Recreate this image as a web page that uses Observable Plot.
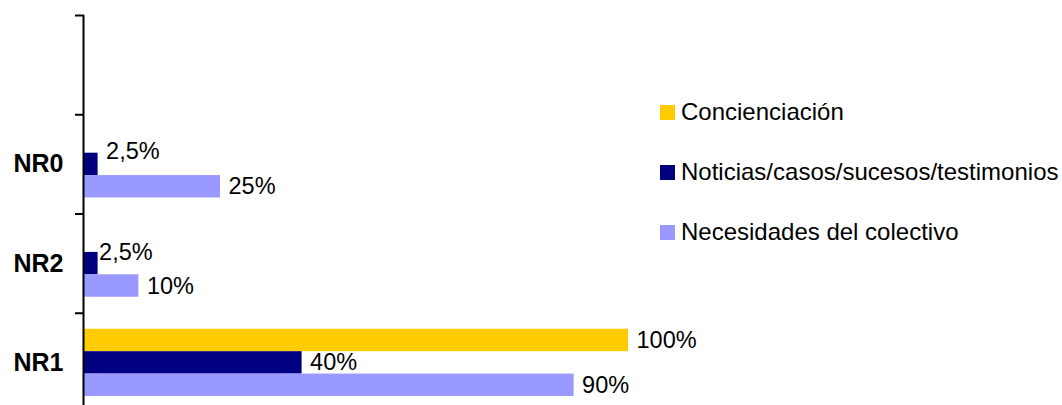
<!DOCTYPE html>
<html>
<head>
<meta charset="utf-8">
<script src="https://cdn.jsdelivr.net/npm/d3@7"></script>
<script src="https://cdn.jsdelivr.net/npm/@observablehq/plot@0.6"></script>
<style>
  html, body { margin: 0; padding: 0; background: #fff; }
  #chart { position: relative; width: 1062px; height: 405px; overflow: hidden; font-family: "Liberation Sans", Arial, sans-serif; }
  #legend { position: absolute; left: 660px; top: 82px; }
  .item { display: flex; align-items: center; height: 60px; font-size: 24px; color: #000; white-space: nowrap; }
  .sw { width: 15px; height: 15px; margin-right: 6px; flex: none; }
</style>
</head>
<body>
<div id="chart"><div id="legend"></div></div>
<script>
// Categories, listed top to bottom (top slot is an empty category)
const categories = ["", "NR0", "NR2", "NR1"];
const series = ["Concienciación", "Noticias/casos/sucesos/testimonios", "Necesidades del colectivo"];
const colors = ["#FFCC00", "#000080", "#9999FF"];
// Values in %, per category (same order as categories)
const concienciacion = [null, null, null, 100];
const noticias = [null, 2.5, 2.5, 40];
const necesidades = [null, 25, 10, 90];

const seriesValues = [concienciacion, noticias, necesidades];
const nCat = categories.length;
// layout of bars inside a category band (fractions of one band)
const barW = 0.2257;
const pad = (1 - barW * series.length) / 2;

const rows = [];
categories.forEach((c, i) => {
  const ci = nCat - 1 - i; // index from bottom
  seriesValues.forEach((vals, si) => {
    const v = vals[i];
    if (v == null) return;
    rows.push({category: c, ci, series: series[si], si, value: v});
  });
});
const barTop = d => d.ci + 1 - pad - d.si * barW;
const barBot = d => d.ci + 1 - pad - (d.si + 1) * barW;
const barMid = d => (barTop(d) + barBot(d)) / 2;
const fmt = d => String(d.value).replace(".", ",") + "%";
const bottomUp = categories.slice().reverse();

const plot = Plot.plot({
  width: 1062,
  height: 405,
  marginLeft: 84,
  marginRight: 434,
  marginTop: 15,
  marginBottom: 0,
  x: {domain: [0, 100], range: [84, 628], axis: null},
  y: {domain: [0, nCat], range: [412, 15], axis: null},
  color: {domain: series, range: colors},
  style: {fontFamily: "Liberation Sans, Arial, sans-serif", background: "transparent", overflow: "visible"},
  marks: [
    Plot.rectX(rows, {x1: 0, x2: "value", y1: barBot, y2: barTop, fill: "series"}),
    Plot.ruleX([0], {y1: 0, y2: nCat, strokeWidth: 2, dx: -1, stroke: "black"}),
    Plot.axisY({ticks: d3.range(nCat + 1), tickSize: 9, tickFormat: () => "", strokeWidth: 2, stroke: "black"}),
    Plot.axisY({ticks: d3.range(nCat).map(i => i + 0.5), tickSize: 0, tickPadding: 21,
      tickFormat: d => bottomUp[Math.floor(d)], fontSize: 25, fontWeight: "bold", fill: "black"}),
    Plot.text(rows.filter(d => d.value >= 5), {x: "value", y: barMid, text: fmt, textAnchor: "start", dx: 8, fontSize: 23.5, fill: "black"}),
    Plot.text(rows.filter(d => d.value < 5 && d.category === "NR0"), {x: "value", y: barMid, text: fmt, textAnchor: "start", dx: 8, dy: -13, fontSize: 23.5, fill: "black"}),
    Plot.text(rows.filter(d => d.value < 5 && d.category === "NR2"), {x: "value", y: barMid, text: fmt, textAnchor: "start", dx: 1, dy: -11, fontSize: 23.5, fill: "black"})
  ]
});
const chart = document.getElementById("chart");
chart.insertBefore(plot, chart.firstChild);

const legend = document.getElementById("legend");
series.forEach((s, i) => {
  const item = document.createElement("div");
  item.className = "item";
  const sw = document.createElement("span");
  sw.className = "sw";
  sw.style.background = colors[i];
  item.appendChild(sw);
  item.appendChild(document.createTextNode(s));
  legend.appendChild(item);
});
</script>
</body>
</html>
